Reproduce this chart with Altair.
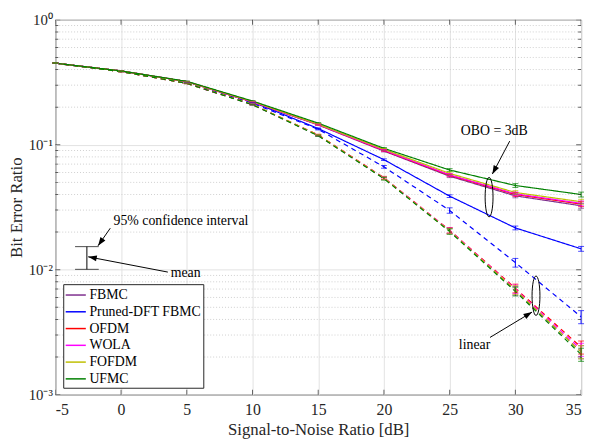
import math
import altair as alt
import pandas as pd

# ---------------- data ----------------
snr = [-5, 0, 5, 10, 15, 20, 25, 30, 35]
schemes = ["FBMC", "Pruned-DFT FBMC", "OFDM", "WOLA", "FOFDM", "UFMC"]
colors = ["#7E2F8E", "#0000FF", "#FF0000", "#FF00FF", "#BFBF00", "#008000"]

# OBO = 3 dB (solid)
fbmc_obo = [0.45, 0.39, 0.32, 0.220, 0.144, 0.089, 0.0560, 0.0390, 0.0325]
pruned_obo = [0.45, 0.39, 0.32, 0.220, 0.135, 0.076, 0.0388, 0.0216, 0.0147]
ofdm_obo = [0.45, 0.39, 0.32, 0.220, 0.145, 0.090, 0.0570, 0.0400, 0.0335]
wola_obo = [0.45, 0.39, 0.32, 0.221, 0.145, 0.0905, 0.0575, 0.0405, 0.0340]
fofdm_obo = [0.45, 0.39, 0.32, 0.222, 0.146, 0.092, 0.0590, 0.0415, 0.0350]
ufmc_obo = [0.45, 0.39, 0.322, 0.224, 0.149, 0.0936, 0.0628, 0.0472, 0.0400]

# linear (dashed)
fbmc_lin = [0.45, 0.385, 0.31, 0.210, 0.119, 0.054, 0.0205, 0.0068, 0.0022]
pruned_lin = [0.45, 0.387, 0.315, 0.215, 0.133, 0.0666, 0.0298, 0.0114, 0.0042]
ofdm_lin = [0.45, 0.385, 0.31, 0.210, 0.120, 0.0545, 0.0207, 0.0071, 0.0024]
wola_lin = [0.45, 0.385, 0.31, 0.210, 0.119, 0.0542, 0.0206, 0.0070, 0.0023]
fofdm_lin = [0.45, 0.385, 0.31, 0.211, 0.1195, 0.0540, 0.0204, 0.0069, 0.0022]
ufmc_lin = [0.45, 0.385, 0.31, 0.209, 0.118, 0.0535, 0.0202, 0.0067, 0.0021]

# relative half-width of the 95% confidence intervals
ci_obo = [0.003, 0.003, 0.004, 0.006, 0.010, 0.015, 0.025, 0.035, 0.045]
ci_lin = [0.003, 0.003, 0.004, 0.006, 0.012, 0.025, 0.050, 0.080, 0.120]

obo_series = [fbmc_obo, pruned_obo, ofdm_obo, wola_obo, fofdm_obo, ufmc_obo]
lin_series = [fbmc_lin, pruned_lin, ofdm_lin, wola_lin, fofdm_lin, ufmc_lin]

# annotations
ellipse_x = [28.0, 31.57]
ellipse_y = [0.0381, 0.00619]
arrow_x_tail = [29.57, 28.07, 3.56, -0.82]
arrow_y_tail = [0.107, 0.00287, 0.00957, 0.0215]
arrow_x_head = [28.25, 31.27, -2.5, -1.75]
arrow_y_head = [0.0583, 0.00458, 0.01268, 0.01556]
label_text = ["OBO = 3dB", "linear", "95% confidence interval", "mean"]
label_x = [25.85, 25.7, -0.57, 3.78]
label_y = [0.128, 0.00248, 0.0247, 0.00935]
ci_demo_x = [-2.6]
ci_demo_lo = [0.01007]
ci_demo_hi = [0.0153]

W, H = 533, 380
FONT = "Times New Roman, Liberation Serif, serif"

rows = []
for i, s in enumerate(schemes):
    for mode, series, ci in (("OBO", obo_series, ci_obo), ("linear", lin_series, ci_lin)):
        for j, x in enumerate(snr):
            v = series[i][j]
            rows.append({"snr": x, "ber": v, "lo": v * (1 - ci[j]), "hi": v * (1 + ci[j]),
                         "scheme": s, "mode": mode, "order": i})
df = pd.DataFrame(rows)

xs = alt.Scale(domain=[-5, 35], nice=False)
ys = alt.Scale(type="log", domain=[0.001, 1], nice=False)
cs = alt.Scale(domain=schemes, range=colors)

minor = [m * 10.0 ** k for k in (-3, -2, -1) for m in range(2, 10)]
major = [0.001, 0.01, 0.1, 1]
xticks = list(range(-5, 36, 5))

xaxis = alt.Axis(values=xticks, grid=True, gridColor="#e2e2e2", ticks=False, domain=False,
                 labelFont=FONT, labelFontSize=16, labelColor="#262626", labelPadding=7,
                 labelExpr="datum.value < 0 ? '-' + abs(datum.value) : '' + datum.value",
                 title="Signal-to-Noise Ratio [dB]", titleFont=FONT, titleFontSize=17,
                 titleFontWeight="normal", titleColor="#262626", titlePadding=4)
yaxis = alt.Axis(values=major, grid=True, gridColor="#e2e2e2", ticks=False, domain=False,
                 labelFont=FONT, labelFontSize=15, labelColor="#262626", labelPadding=3,
                 labelExpr="datum.value > 0.5 ? '10⁰' : datum.value > 0.05 ? '10⁻¹' : datum.value > 0.005 ? '10⁻²' : '10⁻³'",
                 title="Bit Error Ratio", titleFont=FONT, titleFontSize=17,
                 titleFontWeight="normal", titleColor="#262626", titlePadding=3)

base = alt.Chart(df)

minor_grid = alt.Chart(pd.DataFrame({"y": minor})).mark_rule(
    color="#cfcfcf", strokeDash=[1, 2], strokeWidth=1
).encode(y=alt.Y("y:Q", scale=ys, axis=yaxis))

# inward ticks (half clipped)
tick_df = pd.DataFrame({"y": major + minor, "size": [10] * len(major) + [6] * len(minor)})
left_ticks = alt.Chart(tick_df).mark_tick(orient="horizontal", color="#262626", clip=True, thickness=1).encode(
    x=alt.datum(-5, scale=xs), y=alt.Y("y:Q", scale=ys), size=alt.Size("size:Q", scale=None))
right_ticks = alt.Chart(tick_df).mark_tick(orient="horizontal", color="#262626", clip=True, thickness=1).encode(
    x=alt.datum(35, scale=xs), y=alt.Y("y:Q", scale=ys), size=alt.Size("size:Q", scale=None))
xt_df = pd.DataFrame({"x": xticks})
bottom_ticks = alt.Chart(xt_df).mark_tick(orient="vertical", color="#262626", clip=True, thickness=1, size=10).encode(
    x=alt.X("x:Q", scale=xs), y=alt.datum(0.001, scale=ys))
top_ticks = alt.Chart(xt_df).mark_tick(orient="vertical", color="#262626", clip=True, thickness=1, size=10).encode(
    x=alt.X("x:Q", scale=xs), y=alt.datum(1, scale=ys))

lines = base.mark_line(strokeWidth=1.2, clip=True).encode(
    x=alt.X("snr:Q", scale=xs, axis=xaxis),
    y=alt.Y("ber:Q", scale=ys),
    color=alt.Color("scheme:N", scale=cs, sort=schemes,
                    legend=alt.Legend(title=None, orient="none", legendX=8, legendY=268,
                                      symbolType="M-1,0L1.4,0", symbolSize=289, symbolStrokeWidth=1.5,
                                      labelFont=FONT, labelFontSize=14, labelColor="#000000",
                                      strokeColor="#262626", fillColor="#ffffff", padding=1.5,
                                      rowPadding=0, labelOffset=6, cornerRadius=0)),
    strokeDash=alt.StrokeDash("mode:N", scale=alt.Scale(domain=["OBO", "linear"], range=[[1, 0], [5, 4]]),
                              legend=None),
    detail="mode:N",
    order="order:Q",
)

err_rule = base.mark_rule(strokeWidth=1).encode(
    x=alt.X("snr:Q", scale=xs), y=alt.Y("lo:Q", scale=ys), y2="hi:Q",
    color=alt.Color("scheme:N", scale=cs, legend=None))
err_lo = base.mark_tick(orient="horizontal", size=6, thickness=1).encode(
    x=alt.X("snr:Q", scale=xs), y=alt.Y("lo:Q", scale=ys),
    color=alt.Color("scheme:N", scale=cs, legend=None))
err_hi = base.mark_tick(orient="horizontal", size=6, thickness=1).encode(
    x=alt.X("snr:Q", scale=xs), y=alt.Y("hi:Q", scale=ys),
    color=alt.Color("scheme:N", scale=cs, legend=None))

# ellipses
ell = alt.Chart(pd.DataFrame({"x": ellipse_x, "y": ellipse_y})).mark_point(
    shape="M0,-1A0.2,1 0 1,1 0,1A0.2,1 0 1,1 0,-1Z", size=1600, filled=False,
    color="black", strokeWidth=1, opacity=1
).encode(x=alt.X("x:Q", scale=xs), y=alt.Y("y:Q", scale=ys))


def to_px(x, y):
    return ((x + 5) / 40 * W, -math.log10(y) / 3 * H)


angles = []
for xt, yt, xh, yh in zip(arrow_x_tail, arrow_y_tail, arrow_x_head, arrow_y_head):
    (px0, py0), (px1, py1) = to_px(xt, yt), to_px(xh, yh)
    angles.append(math.degrees(math.atan2(px1 - px0, -(py1 - py0))) % 360)

arr_df = pd.DataFrame({"xt": arrow_x_tail, "yt": arrow_y_tail, "xh": arrow_x_head,
                       "yh": arrow_y_head, "ang": angles})
shafts = alt.Chart(arr_df).mark_rule(color="black", strokeWidth=1).encode(
    x=alt.X("xt:Q", scale=xs), y=alt.Y("yt:Q", scale=ys), x2="xh:Q", y2="yh:Q")
heads = alt.Chart(arr_df).mark_point(shape="M0,0L-0.35,1L0.35,1Z", size=300, filled=True,
                                     color="black", opacity=1).encode(
    x=alt.X("xh:Q", scale=xs), y=alt.Y("yh:Q", scale=ys), angle=alt.Angle("ang:Q", scale=None))

texts = alt.Chart(pd.DataFrame({"t": label_text, "x": label_x, "y": label_y})).mark_text(
    font=FONT, fontSize=14, align="left", baseline="middle", color="black"
).encode(x=alt.X("x:Q", scale=xs), y=alt.Y("y:Q", scale=ys), text="t:N")

ci_df = pd.DataFrame({"x": ci_demo_x, "lo": ci_demo_lo, "hi": ci_demo_hi})
ci_rule = alt.Chart(ci_df).mark_rule(color="black", strokeWidth=1).encode(
    x=alt.X("x:Q", scale=xs), y=alt.Y("lo:Q", scale=ys), y2="hi:Q")
ci_lo = alt.Chart(ci_df).mark_tick(orient="horizontal", size=24, thickness=1, color="black").encode(
    x=alt.X("x:Q", scale=xs), y=alt.Y("lo:Q", scale=ys))
ci_hi = alt.Chart(ci_df).mark_tick(orient="horizontal", size=24, thickness=1, color="black").encode(
    x=alt.X("x:Q", scale=xs), y=alt.Y("hi:Q", scale=ys))

chart = alt.layer(
    minor_grid, lines, err_rule, err_lo, err_hi, ell, shafts, heads, texts,
    ci_rule, ci_lo, ci_hi, left_ticks, right_ticks, bottom_ticks, top_ticks
).properties(
    width=W, height=H,
    padding={"left": 48, "top": 9, "right": 6, "bottom": 44},
    autosize=alt.AutoSizeParams(type="none"),
    background="white",
).configure_view(stroke="#262626", strokeWidth=1)

chart.save("out.html", embed_options={"renderer": "svg", "actions": False})
